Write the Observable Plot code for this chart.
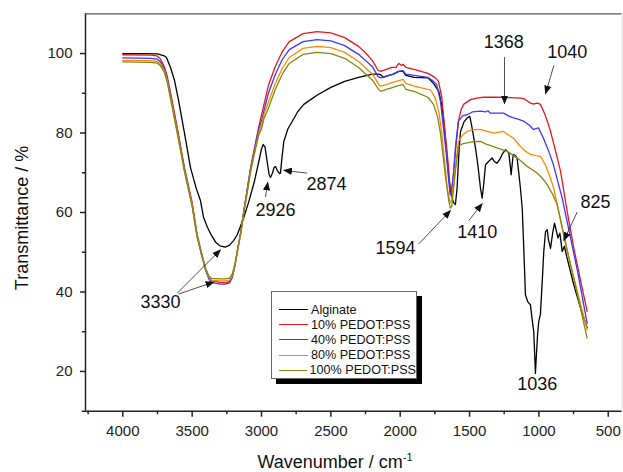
<!DOCTYPE html>
<html>
<head>
<meta charset="utf-8">
<script src="https://cdn.jsdelivr.net/npm/d3@7"></script>
<script src="https://cdn.jsdelivr.net/npm/@observablehq/plot@0.6"></script>
<style>
  html, body { margin: 0; padding: 0; background: #fff; }
  #wrap { position: relative; width: 623px; height: 472px; font-family: "Liberation Sans", Arial, sans-serif; }
  #legend { position: absolute; left: 271px; top: 291px; width: 146px; height: 88px; background: #fff;
    border: 1px solid #666; box-shadow: 5px 5px 0 #000; box-sizing: border-box; padding-top: 10px; }
  .li { display: flex; align-items: center; height: 15.2px; font-size: 12.6px; color: #111; white-space: nowrap; }
  .li span.sw { display: inline-block; width: 29px; height: 0; border-top: 1.6px solid; margin-left: 7px; margin-right: 3px; }
</style>
</head>
<body>
<div id="wrap"></div>
<script>
// ---------- data ----------
const seriesNames = ["Alginate", "10% PEDOT:PSS", "40% PEDOT:PSS", "80% PEDOT:PSS", "100% PEDOT:PSS"];
const seriesColors = ["#000000", "#e8161b", "#3a3af0", "#ff8a00", "#808a12"];

const alginateWn = [4000,3850,3750,3720,3700,3685,3656,3627,3598,3555,3512,3470,3440,3418,3390,3368,3330,3300,3261,3230,3200,3175,3130,3091,3050,3019,3000,2988,2975,2960,2945,2935,2920,2910,2899,2885,2870,2863,2855,2839,2810,2779,2740,2695,2600,2500,2400,2300,2200,2160,2143,2120,2100,2050,2010,1979,1960,1900,1800,1760,1722,1700,1689,1670,1650,1630,1615,1602,1590,1575,1565,1540,1520,1498,1480,1457,1440,1421,1409,1398,1385,1361,1337,1320,1301,1280,1265,1241,1217,1207,1200,1193,1185,1170,1157,1145,1133,1120,1110,1097,1080,1061,1050,1037,1030,1025,1018,1010,1001,989,976,965,952,940,930,916,900,887,875,863,849,840,832,816,800,750,700,652];
const alginateT  = [100,100,99.9,99.6,99.4,99,96.5,93.2,88.2,79.9,71.3,66,63,58.8,56.3,54.7,52.5,51.6,51.3,51.8,53,54.4,58.5,62.8,68,72.9,76,77.1,76.5,73,69.5,68.8,70,71.3,71.6,70.5,69.8,69.9,73,77.9,81,82.9,85.3,87.2,89.5,91.5,93,94,94.8,94.8,94.7,94,94.3,94.8,95.5,95.5,94.5,94,93.9,92.5,90.5,87,84,77,69,64,62.5,62,66,76,80.4,82.8,83.7,84.2,81,76.2,72,66.1,63.6,67,72,72.9,73.7,72.8,72.4,73.5,74.6,75.8,75,72,69.5,72,74.6,74.3,73.7,70,66.1,61,52,39.3,37.5,36.8,33.5,30,24,19.5,24,29,32.6,34.3,42.6,50,55.2,55.7,53,51,55,57.3,55.5,53.6,54.8,52.5,50.2,51.5,49,42,36,31];

const pedot10Wn = [4000,3800,3752,3728,3700,3680,3644,3600,3555,3500,3464,3430,3404,3380,3360,3300,3260,3230,3210,3190,3175,3150,3128,3100,3080,3055,3020,3000,2983,2950,2900,2850,2800,2700,2600,2500,2400,2300,2250,2200,2160,2140,2100,2060,2030,2010,1990,1979,1960,1900,1800,1750,1724,1700,1689,1670,1653,1640,1630,1620,1600,1580,1560,1543,1493,1450,1400,1300,1200,1130,1100,1060,1040,1010,988,960,930,916,880,844,796,748,700,652];
const pedot10T  = [99.7,99.6,99.4,98.6,96.6,94.3,88,80,71.2,62.5,54.5,49.5,46,43.8,42.9,42.4,42.3,42.6,44,47,50.2,55,60.3,66.5,71,75.4,81.5,84.5,87,92,96.8,100.5,103,105,105.5,105.2,104,101.8,100.2,98.2,95.8,95.5,96,96.5,96.5,97.5,97,97.3,96.5,96,95,94,93,89,84.7,78,72,66,65.5,68,76,83,86,87.2,88.4,88.8,89,89,88.9,88.8,88.5,87.5,87.3,87.5,87.2,85,82,80.4,75.5,70.4,60.3,51,43,35.1];

const pedot40Wn = [4000,3800,3752,3728,3700,3680,3644,3600,3555,3500,3464,3430,3404,3380,3360,3300,3260,3230,3210,3190,3175,3150,3128,3100,3080,3055,3020,3000,2983,2950,2900,2850,2800,2700,2600,2500,2400,2300,2200,2160,2140,2100,2050,2010,1979,1960,1900,1800,1760,1737,1710,1690,1665,1650,1640,1630,1615,1600,1580,1550,1517,1480,1421,1385,1368,1349,1300,1254,1220,1183,1150,1111,1070,1039,1003,985,967,930,895,832,780,720,652];
const pedot40T  = [98.9,98.8,98.6,97.9,96.1,93.8,87.5,79.5,70.8,62,54,49,45.5,43.3,42.4,42,42,42.3,43.7,46.8,50,54.8,60.2,66.3,70.8,75.2,81,83,85.5,90,94.8,98.5,101,103,103.5,103.2,102,99.8,96.7,94.2,93.9,94.3,94.8,95.5,95.7,94.8,94.5,94,93,92.2,88,82,74,68,64.5,65,70,77,83,84.3,84.6,85.3,85.5,85.3,85.6,85,85,85,84.3,83.8,83.5,83,82,80.9,81.3,80,78.7,75.5,72,63.6,55,45,32.1];

const pedot80Wn = [4000,3800,3752,3728,3700,3680,3644,3600,3555,3500,3464,3430,3404,3380,3360,3300,3260,3230,3210,3190,3175,3150,3128,3100,3080,3055,3020,3000,2983,2950,2900,2850,2800,2700,2600,2500,2400,2300,2200,2150,2140,2100,2050,2010,1979,1960,1900,1800,1782,1747,1720,1700,1680,1660,1640,1630,1615,1600,1580,1550,1517,1480,1421,1380,1327,1290,1254,1220,1183,1133,1100,1061,1020,988,953,920,893,850,800,750,700,652];
const pedot80T  = [98.3,98.2,98,97.3,95.6,93.3,87,79,70.5,61.8,54,49.2,45.8,43.8,43,42.8,42.8,43,44.2,47,50,54.5,59.8,65.8,70.2,74.5,80,82,84.5,87.8,92.5,96.3,99,101.3,101.8,101.5,100.3,98,94.8,92,91.8,92.2,92.8,93.2,93.5,92.5,91.8,91,90.9,88.8,85,80,73,66,62.5,63,67,72,77.9,79.5,80.4,80.8,80.9,80.5,80,80.2,80.4,79.5,78.7,76.6,75.5,74.6,74.3,74.1,72,69,66.1,59,51,44,37,30.5];

const pedot100Wn = [4000,3800,3752,3728,3700,3680,3644,3600,3555,3500,3464,3430,3404,3380,3360,3300,3260,3230,3210,3190,3175,3150,3128,3100,3080,3055,3020,3000,2983,2950,2900,2850,2800,2700,2600,2500,2400,2300,2200,2150,2140,2100,2050,2010,1979,1960,1900,1800,1760,1730,1710,1690,1670,1650,1638,1628,1615,1600,1580,1550,1517,1480,1421,1380,1327,1280,1229,1190,1157,1120,1085,1050,1012,985,960,940,900,868,830,780,720,652];
const pedot100T  = [97.9,97.8,97.6,96.9,95.2,92.8,86.5,78.5,70.2,61.5,53.8,49.2,46,44,43.4,43.3,43.3,43.5,44.6,47.3,50.2,54.6,59.8,65.6,70,74.2,79.5,81,83.5,86.3,91,94.8,97.5,99.8,100.3,100,98.8,96.5,93.3,90.7,90.5,91,91.5,92,92.2,91,90.5,89,87.2,84,80,74,68,63,61.1,61.5,66,71,76.6,77.3,77.5,77.8,77.9,77.2,76.6,76,75.4,74.5,73.7,72.7,71.6,70.8,69.9,69,68,67,64.5,62,56,48,39,28.4];

// axis ticks
const xMajorTicks = [4000, 3500, 3000, 2500, 2000, 1500, 1000, 500];
const xMinorTicks = [4250, 3750, 3250, 2750, 2250, 1750, 1250, 750];
const yMajorTicks = [20, 40, 60, 80, 100];
const yMinorTicks = [30, 50, 70, 90];

// annotations (data coordinates)
const annLabels = ["3330", "2926", "2874", "1594", "1410", "1036", "825", "1368", "1040"];
const annLabelWn = [3728, 2899, 2531, 2034, 1445, 1012, 592, 1253, 796];
const annLabelT  = [37.4, 60.5, 67.0, 50.9, 55.0, 16.9, 62.6, 102.9, 100.3];
const arrowFromWn = [3608, 3596, 2971, 2670, 1866, 1505, 724, 1248, 892];
const arrowFromT  = [39.7, 39.5, 63.9, 69.9, 52.1, 58.0, 60.1, 99.1, 97.0];
const arrowToWn   = [3296, 3344, 2955, 2839, 1637, 1409, 820, 1248, 952];
const arrowToT    = [50.6, 42.5, 67.6, 70.6, 60.5, 62.2, 53.0, 87.4, 89.9];

// ---------- build tables ----------
const seriesData = [
  [alginateWn, alginateT], [pedot10Wn, pedot10T], [pedot40Wn, pedot40T],
  [pedot80Wn, pedot80T], [pedot100Wn, pedot100T]
];
const rows = [];
seriesData.forEach(([wn, t], k) => wn.forEach((w, i) => rows.push({series: seriesNames[k], w, t: t[i]})));
const labels = annLabels.map((s, i) => ({s, w: annLabelWn[i], t: annLabelT[i]}));
const arrows = arrowFromWn.map((w, i) => ({x1: w, y1: arrowFromT[i], x2: arrowToWn[i], y2: arrowToT[i]}));

const font = "Liberation Sans, Arial, sans-serif";
const fmt = d3.format("d");
const chart = Plot.plot({
  width: 623, height: 472,
  marginLeft: 85, marginRight: 1.4, marginTop: 13.3, marginBottom: 61.3,
  style: {fontFamily: font, background: "#fff", color: "#222"},
  x: {domain: [4269, 400]},
  y: {domain: [10, 110]},
  color: {domain: seriesNames, range: seriesColors},
  marks: [
    Plot.ruleY([10], {x1: 4292, x2: 400, stroke: "#222", strokeWidth: 1.5}),
    Plot.ruleX([4269], {y1: 10, y2: 110, stroke: "#222", strokeWidth: 1.5}),
    Plot.ruleY([110], {stroke: "#555", strokeWidth: 1.3}),
    Plot.ruleX([400], {y1: 10, y2: 110, stroke: "#ddd", strokeWidth: 1}),
    Plot.axisX({ticks: xMajorTicks, tickFormat: fmt, tickSize: 6, tickPadding: 8, fontSize: 15, label: null, stroke: "#222", strokeWidth: 1.5}),
    Plot.axisX({ticks: xMinorTicks, tickSize: 3.5, tickFormat: () => "", label: null, stroke: "#222", strokeWidth: 1.5}),
    Plot.axisY({ticks: yMajorTicks, tickFormat: fmt, tickSize: 5, tickPadding: 8, fontSize: 15, label: null, stroke: "#222", strokeWidth: 1.5}),
    Plot.axisY({ticks: yMinorTicks, tickSize: 3, tickFormat: () => "", label: null, stroke: "#222", strokeWidth: 1.5}),
    Plot.line(rows, {x: "w", y: "t", z: "series", stroke: "series", strokeWidth: 1.3, curve: "linear"}),
    Plot.link(arrows, {x1: "x1", y1: "y1", x2: "x2", y2: "y2", stroke: "#222", strokeWidth: 0.8, className: "annarrow"}),
    Plot.text(labels, {x: "w", y: "t", text: "s", fontSize: 18, fill: "#111", fontFamily: font})
  ]
});

// filled arrow heads
const svg = d3.select(chart);
const defs = svg.append("defs");
defs.append("marker").attr("id", "ah").attr("viewBox", "0 0 10 10").attr("refX", 9).attr("refY", 5)
  .attr("markerWidth", 9).attr("markerHeight", 9).attr("markerUnits", "userSpaceOnUse").attr("orient", "auto")
  .append("path").attr("d", "M0,1 L10,5 L0,9 Z").attr("fill", "#111");
svg.selectAll(".annarrow path").attr("marker-end", "url(#ah)");

// axis titles
svg.append("text").attr("x", 335).attr("y", 468).attr("text-anchor", "middle")
  .attr("font-size", 18).attr("font-family", font).attr("fill", "#111")
  .call(t => { t.append("tspan").text("Wavenumber / cm"); t.append("tspan").attr("dy", -7).attr("font-size", 11).text("-1"); });
svg.append("text").attr("transform", "translate(28,218) rotate(-90)").attr("text-anchor", "middle")
  .attr("font-size", 18).attr("font-family", font).attr("fill", "#111").text("Transmittance / %");

const wrap = document.getElementById("wrap");
wrap.appendChild(chart);

// legend
const lg = document.createElement("div");
lg.id = "legend";
seriesNames.forEach((n, i) => {
  const d = document.createElement("div");
  d.className = "li";
  d.innerHTML = `<span class="sw" style="border-color:${seriesColors[i]}"></span>${n}`;
  lg.appendChild(d);
});
wrap.appendChild(lg);
</script>
</body>
</html>
